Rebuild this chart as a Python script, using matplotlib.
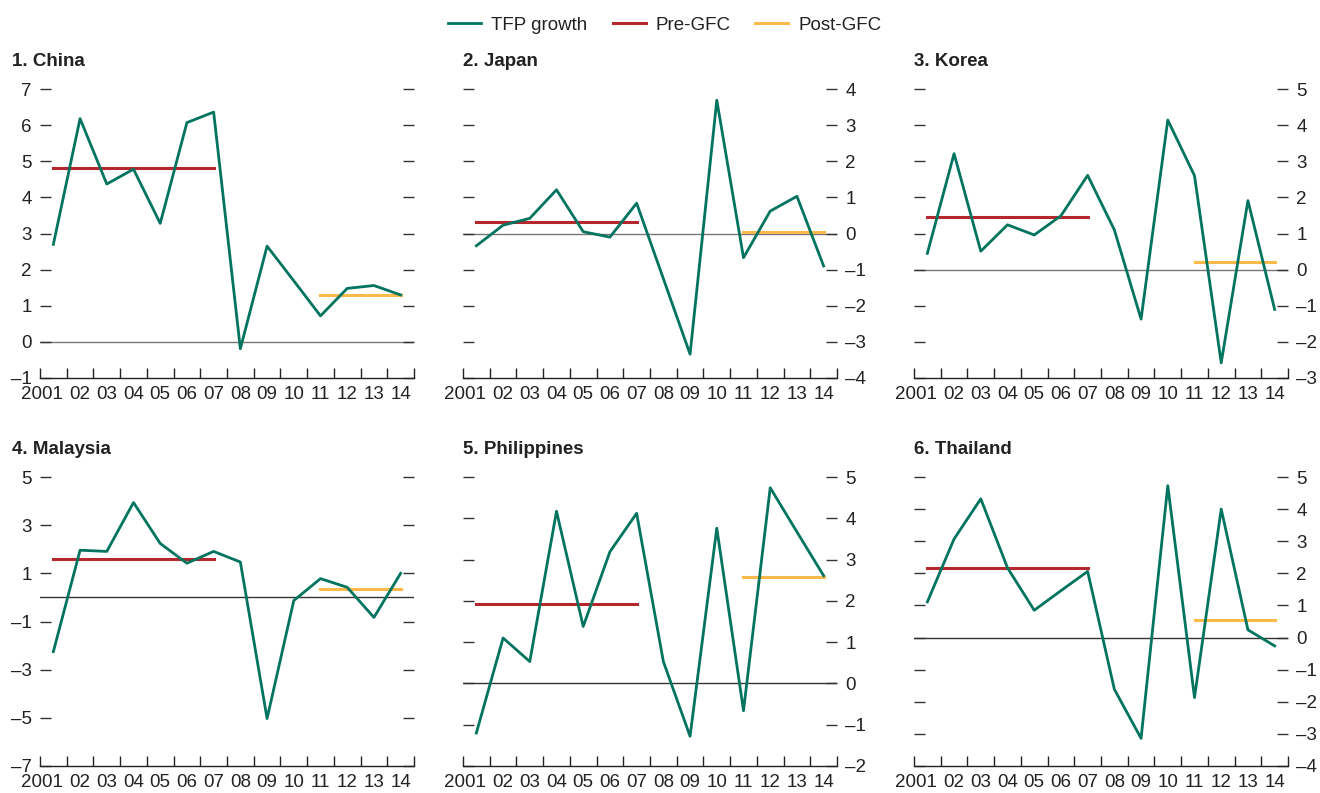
import numpy as np
import matplotlib
matplotlib.use("Agg")
import matplotlib.pyplot as plt
from matplotlib.transforms import ScaledTranslation

plt.rcParams['font.family'] = ['Liberation Sans', 'DejaVu Sans']

years = ["2001", "02", "03", "04", "05", "06", "07", "08", "09", "10", "11", "12", "13", "14"]

titles = ["1. China", "2. Japan", "3. Korea", "4. Malaysia", "5. Philippines", "6. Thailand"]

china = [2.70, 6.18, 4.37, 4.78, 3.28, 6.07, 6.36, -0.19, 2.65, 1.69, 0.72, 1.48, 1.56, 1.30]
japan = [-0.34, 0.23, 0.42, 1.21, 0.05, -0.10, 0.84, -1.25, -3.34, 3.69, -0.67, 0.62, 1.03, -0.90]
korea = [0.45, 3.21, 0.51, 1.24, 0.96, 1.49, 2.61, 1.10, -1.37, 4.14, 2.60, -2.58, 1.91, -1.10]
malaysia = [-2.25, 1.96, 1.91, 3.94, 2.24, 1.42, 1.91, 1.47, -5.03, -0.13, 0.78, 0.42, -0.83, 1.00]
philippines = [-1.20, 1.10, 0.53, 4.17, 1.38, 3.19, 4.12, 0.53, -1.28, 3.76, -0.66, 4.74, 3.67, 2.61]
thailand = [1.11, 3.07, 4.32, 2.17, 0.85, 1.46, 2.06, -1.61, -3.14, 4.73, -1.87, 4.00, 0.24, -0.26]

pre_gfc = [4.80, 0.32, 1.47, 1.61, 1.92, 2.16]
post_gfc = [1.29, 0.05, 0.22, 0.36, 2.57, 0.54]

ylims = [(-1, 7), (-4, 4), (-3, 5), (-7, 5), (-2, 5), (-4, 5)]
ysteps = [1, 1, 1, 2, 1, 1]
label_side = ["left", "right", "right", "left", "right", "right"]

series = [china, japan, korea, malaysia, philippines, thailand]

green = "#00745F"
red = "#B3272D"
yellow = "#FDB94A"
fs = 13.5

fig = plt.figure(figsize=(13.2, 7.93), dpi=100)

lefts = [40, 463, 914]
tops = [89, 477]
bottoms = [378, 766]
W, H = 1320, 793

x = np.arange(len(years)) + 0.5
for k in range(6):
    r, c = divmod(k, 3)
    ax = fig.add_axes([lefts[c] / W, 1 - bottoms[r] / H, 374 / W, (bottoms[r] - tops[r]) / H])
    ax.axhline(0, color="#777777" if r == 0 else "#333333", lw=1.0, zorder=1)
    ax.plot(x, series[k], color=green, lw=2.0, zorder=3, label="TFP growth")
    ax.plot([x[0], x[6]], [pre_gfc[k]] * 2, color=red, lw=2.2, zorder=2, label="Pre-GFC")
    ax.plot([x[10], x[13]], [post_gfc[k]] * 2, color=yellow, lw=2.2, zorder=2, label="Post-GFC")

    lo, hi = ylims[k]
    ax.set_xlim(0, 14)
    ax.set_ylim(lo, hi)
    for s in ["top", "left", "right"]:
        ax.spines[s].set_visible(False)
    ax.spines["bottom"].set_color("#222222")
    ax.spines["bottom"].set_linewidth(1.0)

    ax.set_xticks(np.arange(15))
    ax.set_xticklabels([])
    ax.set_xticks(x, minor=True)
    ax.set_xticklabels(years, minor=True)
    ax.tick_params(axis="x", which="major", direction="in", length=7, width=1, color="#222222")
    ax.tick_params(axis="x", which="minor", length=0, pad=5.5, labelsize=fs, colors="#222222")
    # "2001" sits a bit left of its slot
    first = ax.get_xticklabels(minor=True)[0]
    first.set_transform(first.get_transform() + ScaledTranslation(-11 / 100, 0, fig.dpi_scale_trans))

    yt = np.arange(lo, hi + 0.01, ysteps[k])
    ax.set_yticks(yt)
    ax.set_yticklabels(["\u2013%d" % -v if v < 0 else "%d" % v for v in yt])
    left_lab = label_side[k] == "left"
    ax.tick_params(axis="y", which="major", direction="in", length=8, width=1,
                   color="#333333", left=True, right=True,
                   labelleft=left_lab, labelright=not left_lab,
                   labelsize=fs, labelcolor="#222222", pad=6)

    fig.text((12 if c == 0 else lefts[c]) / W, 1 - (62 if r == 0 else 449) / H, titles[k],
             fontsize=fs, fontweight="bold", color="#222222", va="center", ha="left")

handles, labels = ax.get_legend_handles_labels()
fig.legend(handles, labels, loc="center", bbox_to_anchor=(665 / W, 1 - 25 / H), ncol=3,
           frameon=False, fontsize=fs, handlelength=1.76, columnspacing=1.33,
           handletextpad=0.53, labelcolor="#222222")

fig.savefig("out.png", dpi=100)
